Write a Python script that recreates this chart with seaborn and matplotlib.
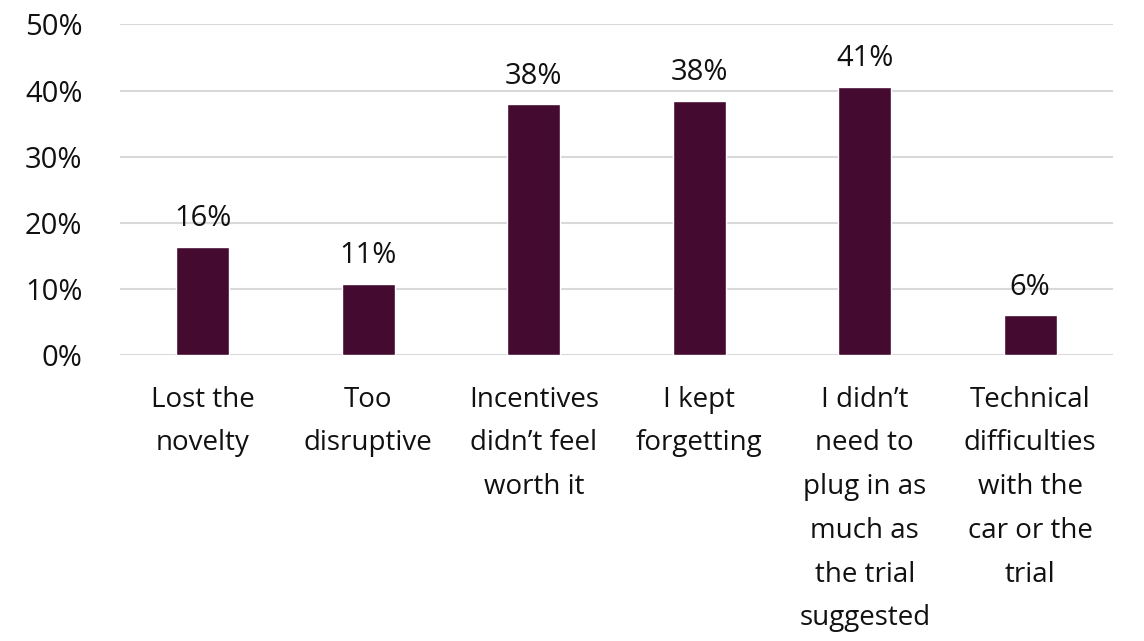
import pandas as pd
import matplotlib.pyplot as plt
import seaborn as sns
from matplotlib.ticker import PercentFormatter

# Reasons given for stopping / not plugging in (share of respondents)
reasons = [
    "Lost the\nnovelty",
    "Too\ndisruptive",
    "Incentives\ndidn\u2019t feel\nworth it",
    "I kept\nforgetting",
    "I didn\u2019t\nneed to\nplug in as\nmuch as\nthe trial\nsuggested",
    "Technical\ndifficulties\nwith the\ncar or the\ntrial",
]
shares = [0.163, 0.107, 0.379, 0.384, 0.406, 0.060]

df = pd.DataFrame({"reason": reasons, "share": shares})

sns.set_theme(style="white")
plt.rcParams["font.family"] = ["Open Sans", "DejaVu Sans"]

fig = plt.figure(figsize=(11.44, 6.41), dpi=100)
ax = fig.add_axes([0.1049, 0.446, 0.868, 0.516])

sns.barplot(data=df, x="reason", y="share", color="#440A30", width=0.32,
            saturation=1, ax=ax, zorder=3)

ax.bar_label(ax.containers[0], fmt=lambda v: f"{v:.0%}", padding=10,
             fontsize=21, color="#111111")

ax.set_ylim(0, 0.5)
ax.set_yticks([0, 0.1, 0.2, 0.3, 0.4, 0.5])
ax.yaxis.set_major_formatter(PercentFormatter(1.0, decimals=0))
ax.grid(axis="y", color="#D9D9D9", linewidth=1.5, zorder=0)
ax.set_axisbelow(True)

ax.set_xlabel("")
ax.set_ylabel("")
for s in ax.spines.values():
    s.set_visible(False)

ax.tick_params(axis="y", length=0, pad=27, labelsize=21, labelcolor="#111111")
ax.tick_params(axis="x", length=0, pad=22, labelsize=20, labelcolor="#111111")
for lab in ax.get_xticklabels():
    lab.set_linespacing(1.75)
    lab.set_verticalalignment("top")

fig.savefig("out.png", dpi=100)
